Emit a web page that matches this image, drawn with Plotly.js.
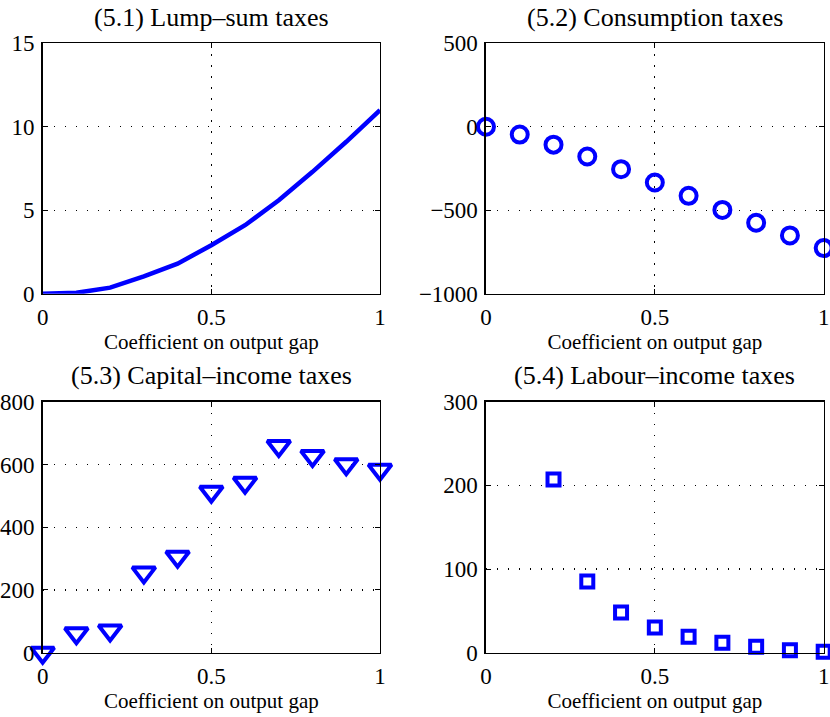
<!DOCTYPE html>
<html>
<head>
<meta charset="utf-8">
<script src="https://cdn.plot.ly/plotly-3.0.1.min.js"></script>
<style>html,body{margin:0;padding:0;background:#fff;}#chart{width:830px;height:717px;}</style>
</head>
<body>
<div id="chart"></div>
<script>
// Data
var coef = [0, 0.1, 0.2, 0.3, 0.4, 0.5, 0.6, 0.7, 0.8, 0.9, 1.0];
var lumpSum = [0, 0.05, 0.36, 1.04, 1.8, 2.9, 4.1, 5.6, 7.3, 9.1, 11.0];
var consumption = [0, -47, -107, -178, -254, -334, -414, -498, -575, -651, -727];
var capitalIncome = [0, 62, 71, 256, 306, 513, 542, 659, 627, 601, 583];
var labourIncome = [null, null, 207, 85, 48, 30, 19, 12, 7, 3, 1];
var titles = ["(5.1) Lump\u2013sum taxes", "(5.2) Consumption taxes", "(5.3) Capital\u2013income taxes", "(5.4) Labour\u2013income taxes"];
var xLabel = "Coefficient on output gap";

var blue = "#0000ff";
var FONT = "Liberation Serif, Times New Roman, serif";

var traces = [
  {x: coef, y: lumpSum, type: "scatter", mode: "lines", line: {color: blue, width: 4.5}, xaxis: "x", yaxis: "y", cliponaxis: false},
  {x: coef, y: consumption, type: "scatter", mode: "markers", marker: {symbol: "circle-open", size: 16, color: blue, line: {width: 4, color: blue}}, xaxis: "x2", yaxis: "y2", cliponaxis: false},
  {x: coef, y: capitalIncome, type: "scatter", mode: "markers", marker: {symbol: "triangle-down-open", size: 20, color: blue, line: {width: 4, color: blue}}, xaxis: "x3", yaxis: "y3", cliponaxis: false},
  {x: coef, y: labourIncome, type: "scatter", mode: "markers", marker: {symbol: "square-open", size: 12, color: blue, line: {width: 4, color: blue}}, xaxis: "x4", yaxis: "y4", cliponaxis: false}
];

var GRIDDASH = "1.5px,9.5px";

function xa(dom, anchor) {
  return {
    domain: dom, anchor: anchor, range: [0, 1], tickvals: [0, 0.5, 1], ticktext: ["0", "0.5", "1"],
    showline: true, linecolor: "#000", linewidth: 1.5, mirror: "ticks", ticks: "inside", ticklen: 5, tickcolor: "#000",
    showgrid: true, gridcolor: "#000", griddash: GRIDDASH, gridwidth: 1.2, zeroline: false,
    tickfont: {family: FONT, size: 23, color: "#000"}, ticklabelstandoff: 2,
    title: {text: xLabel, font: {family: FONT, size: 21, color: "#000"}, standoff: 4}
  };
}
function ya(dom, anchor, range, dtick) {
  return {
    domain: dom, anchor: anchor, range: range, dtick: dtick, tick0: range[0],
    showline: true, linecolor: "#000", linewidth: 1.5, mirror: "ticks", ticks: "inside", ticklen: 5, tickcolor: "#000",
    showgrid: true, gridcolor: "#000", griddash: GRIDDASH, gridwidth: 1.2, zeroline: false,
    tickfont: {family: FONT, size: 23, color: "#000"}, ticklabelstandoff: 2,
    tickformat: "d"
  };
}

var xL = [0.0514, 0.4578], xR = [0.5855, 0.9924];
var yT = [0.5904, 0.9396], yB = [0.0897, 0.4397];

var layout = {
  width: 830, height: 717, showlegend: false,
  margin: {l: 0, r: 0, t: 0, b: 0, pad: 0},
  paper_bgcolor: "#fff", plot_bgcolor: "#fff",
  font: {family: FONT, color: "#000"},
  xaxis: xa(xL, "y"), yaxis: ya(yT, "x", [0, 15], 5),
  xaxis2: xa(xR, "y2"), yaxis2: ya(yT, "x2", [-1000, 500], 500),
  xaxis3: xa(xL, "y3"), yaxis3: ya(yB, "x3", [0, 800], 200),
  xaxis4: xa(xR, "y4"), yaxis4: ya(yB, "x4", [0, 300], 100),
  annotations: [
    {text: titles[0], x: (xL[0] + xL[1]) / 2, y: 1 - 17 / 717},
    {text: titles[1], x: (xR[0] + xR[1]) / 2, y: 1 - 17 / 717},
    {text: titles[2], x: (xL[0] + xL[1]) / 2, y: 1 - 375 / 717},
    {text: titles[3], x: (xR[0] + xR[1]) / 2, y: 1 - 375 / 717}
  ].map(function (a) {
    return Object.assign({xref: "paper", yref: "paper", xanchor: "center", yanchor: "middle", showarrow: false,
      font: {family: FONT, size: 26, color: "#000"}}, a);
  })
};

Plotly.newPlot("chart", traces, layout, {displayModeBar: false, staticPlot: true});
</script>
</body>
</html>
